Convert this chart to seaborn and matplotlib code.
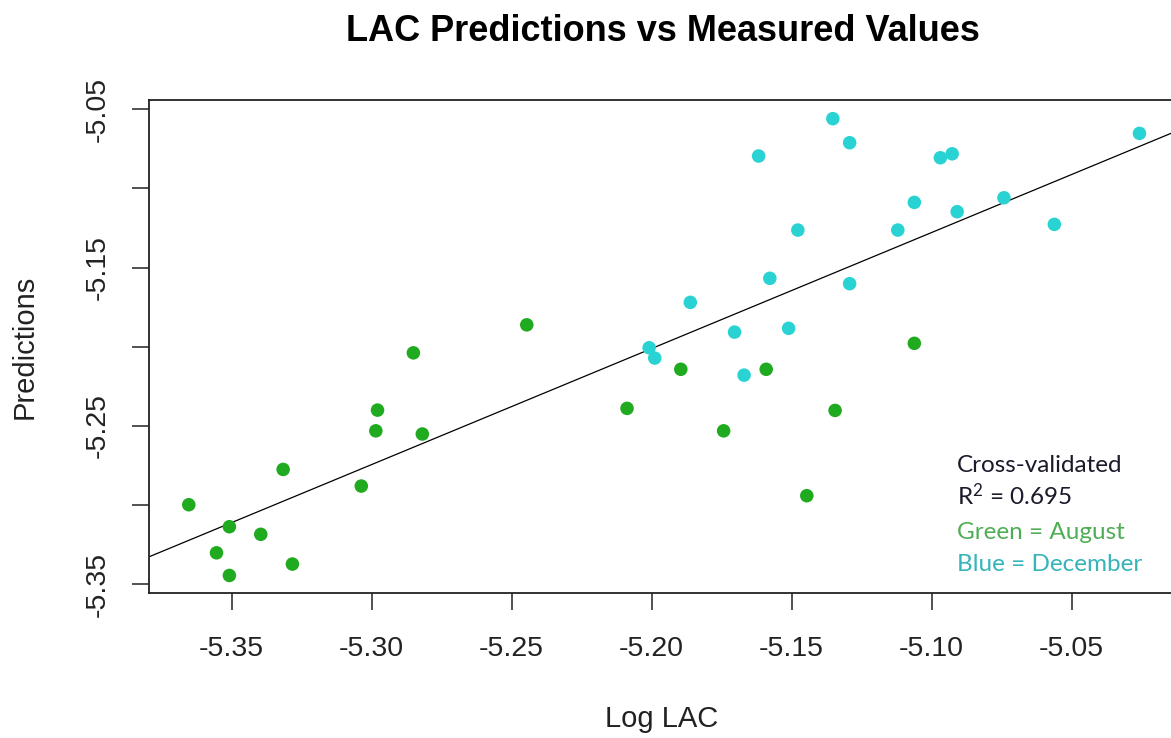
import matplotlib
matplotlib.use("Agg")
import matplotlib.pyplot as plt
import seaborn as sns
import pandas as pd
import numpy as np

# ---- data ----
dec_x = [-5.1353, -5.1293, -5.1618, -5.0969, -5.0927, -5.0258, -5.1062, -5.0909,
         -5.0742, -5.1478, -5.1121, -5.0562, -5.1578, -5.1293, -5.1862, -5.1511,
         -5.1704, -5.2009, -5.1989, -5.1670]
dec_y = [-5.0559, -5.0711, -5.0795, -5.0806, -5.0781, -5.0652, -5.1088, -5.1147,
         -5.1059, -5.1263, -5.1263, -5.1227, -5.1568, -5.1602, -5.1720, -5.1884,
         -5.1908, -5.2007, -5.2072, -5.2180]
aug_x = [-5.3653, -5.3554, -5.3508, -5.3508, -5.3396, -5.3316, -5.3283, -5.3037,
         -5.2979, -5.2985, -5.2851, -5.2819, -5.2446, -5.2088, -5.1896, -5.1743,
         -5.1591, -5.1446, -5.1345, -5.1062]
aug_y = [-5.2999, -5.3303, -5.3138, -5.3446, -5.3186, -5.2776, -5.3374, -5.2881,
         -5.2401, -5.2532, -5.2039, -5.2552, -5.1862, -5.2390, -5.2143, -5.2532,
         -5.2143, -5.2942, -5.2403, -5.1979]
fit_intercept = -1.3875
fit_slope = 0.7334
x_ticks = [-5.35, -5.30, -5.25, -5.20, -5.15, -5.10, -5.05]
x_labels = ["-5.35", "-5.30", "-5.25", "-5.20", "-5.15", "-5.10", "-5.05"]
y_ticks = [-5.35, -5.30, -5.25, -5.20, -5.15, -5.10, -5.05]
y_labels = ["-5.35", "", "-5.25", "", "-5.15", "", "-5.05"]
annot_lines = ["Cross-validated", r"R$^{2}$ = 0.695", "Green = August", "Blue = December"]

df = pd.DataFrame({
    "x": aug_x + dec_x,
    "y": aug_y + dec_y,
    "month": ["August"] * len(aug_x) + ["December"] * len(dec_x),
})

sns.set_style("white")
plt.rcParams["font.family"] = ["Liberation Sans", "DejaVu Sans"]
plt.rcParams["mathtext.fontset"] = "custom"
plt.rcParams["mathtext.rm"] = "Lato"
plt.rcParams["mathtext.default"] = "regular"

W, H = 1171, 738
fig = plt.figure(figsize=(W / 100, H / 100), dpi=100)
left, right, top, bottom = 149.3, 1171, 100, 592.7
ax = fig.add_axes([left / W, 1 - bottom / H, (right - left) / W, (bottom - top) / H])

sns.scatterplot(data=df, x="x", y="y", hue="month",
                palette={"August": "#1FAA1F", "December": "#2AD3D3"},
                s=95, edgecolor="none", linewidth=0, legend=False, ax=ax, zorder=3)

ax.axline((0, fit_intercept), slope=fit_slope, color="black", lw=0.9, zorder=2)

ax.set_xlim(-5.3794, -5.01454)
ax.set_ylim(-5.3555, -5.0441)
ax.set_xticks(x_ticks)
ax.set_xticklabels(x_labels)
ax.set_yticks(y_ticks)
ax.set_yticklabels(y_labels, rotation=90, va="center")
ax.set_xlabel("")
ax.set_ylabel("")

for s in ["left", "top", "bottom"]:
    ax.spines[s].set_color("#222222")
    ax.spines[s].set_linewidth(1.3)
ax.spines["right"].set_visible(False)

ax.tick_params(axis="x", direction="out", length=12.5, width=1.1, color="#222222",
               pad=19, labelsize=20.5, bottom=True)
ax.tick_params(axis="y", direction="out", length=12, width=1.1, color="#222222",
               pad=16, labelsize=20.5, left=True)
for lab in ax.get_xticklabels() + ax.get_yticklabels():
    lab.set_color("#222222")

fig.text(662.5 / W, 1 - 41 / H, "LAC Predictions vs Measured Values",
         ha="center", va="baseline", fontsize=26, fontweight="bold", color="black")
fig.text(662 / W, 1 - 727 / H, "Log LAC", ha="center", va="baseline",
         fontsize=21, color="#222222")
fig.text(25 / W, 1 - 346.7 / H, "Predictions", ha="center", va="center",
         rotation=90, fontsize=21, color="#222222")

annot_colors = ["#1a1a2a", "#1a1a2a", "#4FAE55", "#35B4BA"]
baselines = [472.3, 505, 539, 571]
for txt, col, yb in zip(annot_lines, annot_colors, baselines):
    fig.text(957 / W, 1 - yb / H, txt, ha="left", va="baseline", fontsize=17.5,
             color=col, family=["Lato", "DejaVu Sans"])

fig.savefig("out.png", dpi=100)
